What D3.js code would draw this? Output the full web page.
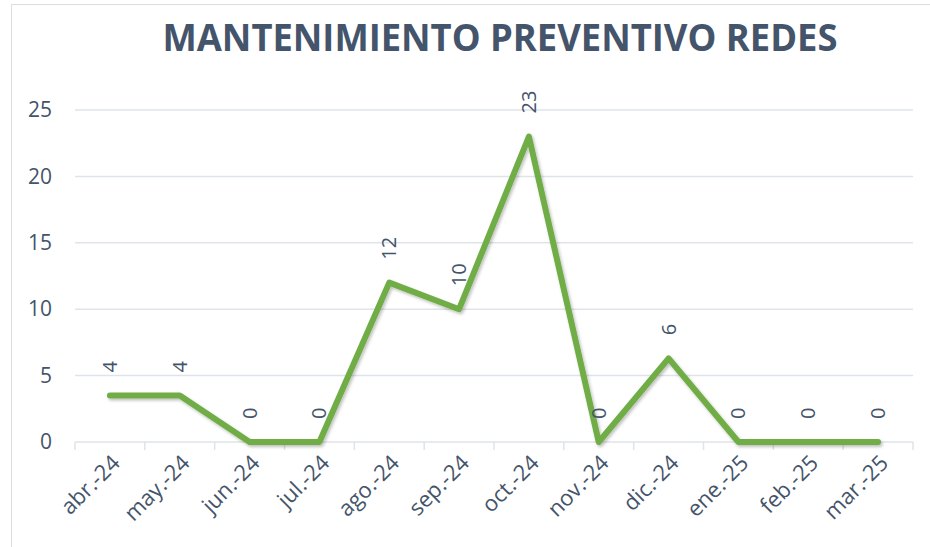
<!DOCTYPE html>
<html>
<head>
<meta charset="utf-8">
<script src="https://cdn.jsdelivr.net/npm/d3@7"></script>
<style>
  body { margin: 0; background: #fff; }
  svg { display: block; font-family: "Open Sans", sans-serif; }
</style>
</head>
<body>
<svg id="chart" width="930" height="547"></svg>
<script>
// data
const months = ["abr.-24", "may.-24", "jun.-24", "jul.-24", "ago.-24", "sep.-24",
                "oct.-24", "nov.-24", "dic.-24", "ene.-25", "feb.-25", "mar.-25"];
const values = [3.5, 3.5, 0, 0, 12, 10, 23, 0, 6.3, 0, 0, 0];
const yTicks = [0, 5, 10, 15, 20, 25];
const title = "MANTENIMIENTO PREVENTIVO REDES";

const textColor = "#44546A";
const gridColor = "#dfe3ea";

const svg = d3.select("#chart");

// chart frame
svg.append("rect")
    .attr("x", 11.5).attr("y", 4.5)
    .attr("width", 940).attr("height", 560)
    .attr("fill", "none")
    .attr("stroke", "#dadde2");

const margin = { left: 75, right: 17, top: 110, bottom: 105 };
const width = 930 - margin.left - margin.right;
const height = 547 - margin.top - margin.bottom;

const g = svg.append("g").attr("transform", `translate(${margin.left},${margin.top})`);

const x = d3.scaleBand().domain(months).range([0, width]).padding(0);
const y = d3.scaleLinear().domain([0, 25]).range([height, 0]);

// title
svg.append("text")
    .attr("x", 500).attr("y", 51)
    .attr("text-anchor", "middle")
    .attr("font-size", 38)
    .attr("font-weight", "bold")
    .attr("fill", textColor)
    .attr("textLength", 675)
    .attr("lengthAdjust", "spacingAndGlyphs")
    .text(title);

// gridlines
g.selectAll(".grid")
    .data(yTicks.filter(d => d > 0))
    .enter()
    .append("line")
    .attr("x1", 0).attr("x2", width)
    .attr("y1", d => y(d)).attr("y2", d => y(d))
    .attr("stroke", gridColor)
    .attr("stroke-width", 1.5);

// y axis labels
const yAxis = g.append("g")
    .call(d3.axisLeft(y).tickValues(yTicks).tickSize(0).tickPadding(23));
yAxis.select(".domain").remove();
yAxis.selectAll("text")
    .attr("font-size", 21)
    .attr("font-family", "Open Sans, sans-serif")
    .attr("fill", textColor);

// x axis: baseline with ticks on band edges
const xAxisG = g.append("g").attr("transform", `translate(0,${height})`);
xAxisG.append("line")
    .attr("x1", 0).attr("x2", width)
    .attr("stroke", gridColor).attr("stroke-width", 1.5);
const edges = d3.range(months.length + 1).map(i => i * x.step());
xAxisG.selectAll(".tk")
    .data(edges)
    .enter()
    .append("line")
    .attr("x1", d => d).attr("x2", d => d)
    .attr("y1", 0).attr("y2", 8)
    .attr("stroke", gridColor).attr("stroke-width", 1.5);

xAxisG.selectAll(".xl")
    .data(months)
    .enter()
    .append("text")
    .attr("transform", d => `translate(${x(d) + x.bandwidth() / 2 + 6},${17}) rotate(-45)`)
    .attr("text-anchor", "end")
    .attr("dy", "0.35em")
    .attr("font-size", 22)
    .attr("fill", textColor)
    .text(d => d);

// shadow
const defs = svg.append("defs");
const f = defs.append("filter").attr("id", "shadow")
    .attr("x", "-10%").attr("y", "-10%").attr("width", "120%").attr("height", "120%");
f.append("feDropShadow")
    .attr("dx", 1.5).attr("dy", 2)
    .attr("stdDeviation", 1.5)
    .attr("flood-color", "#000")
    .attr("flood-opacity", 0.25);

const line = d3.line()
    .x((d, i) => x(months[i]) + x.bandwidth() / 2)
    .y(d => y(d));

g.append("path")
    .datum(values)
    .attr("d", line)
    .attr("fill", "none")
    .attr("stroke", "#70AD47")
    .attr("stroke-width", 6)
    .attr("stroke-linejoin", "round")
    .attr("stroke-linecap", "round")
    .attr("filter", "url(#shadow)");

// data labels
const fmt = d3.format(".0f");
g.selectAll(".dl")
    .data(values)
    .enter()
    .append("text")
    .attr("transform", (d, i) => `translate(${x(months[i]) + x.bandwidth() / 2},${y(d) - 23}) rotate(-90)`)
    .attr("text-anchor", "start")
    .attr("dy", "0.35em")
    .attr("font-size", 20)
    .attr("fill", textColor)
    .text(d => fmt(d));
</script>
</body>
</html>
